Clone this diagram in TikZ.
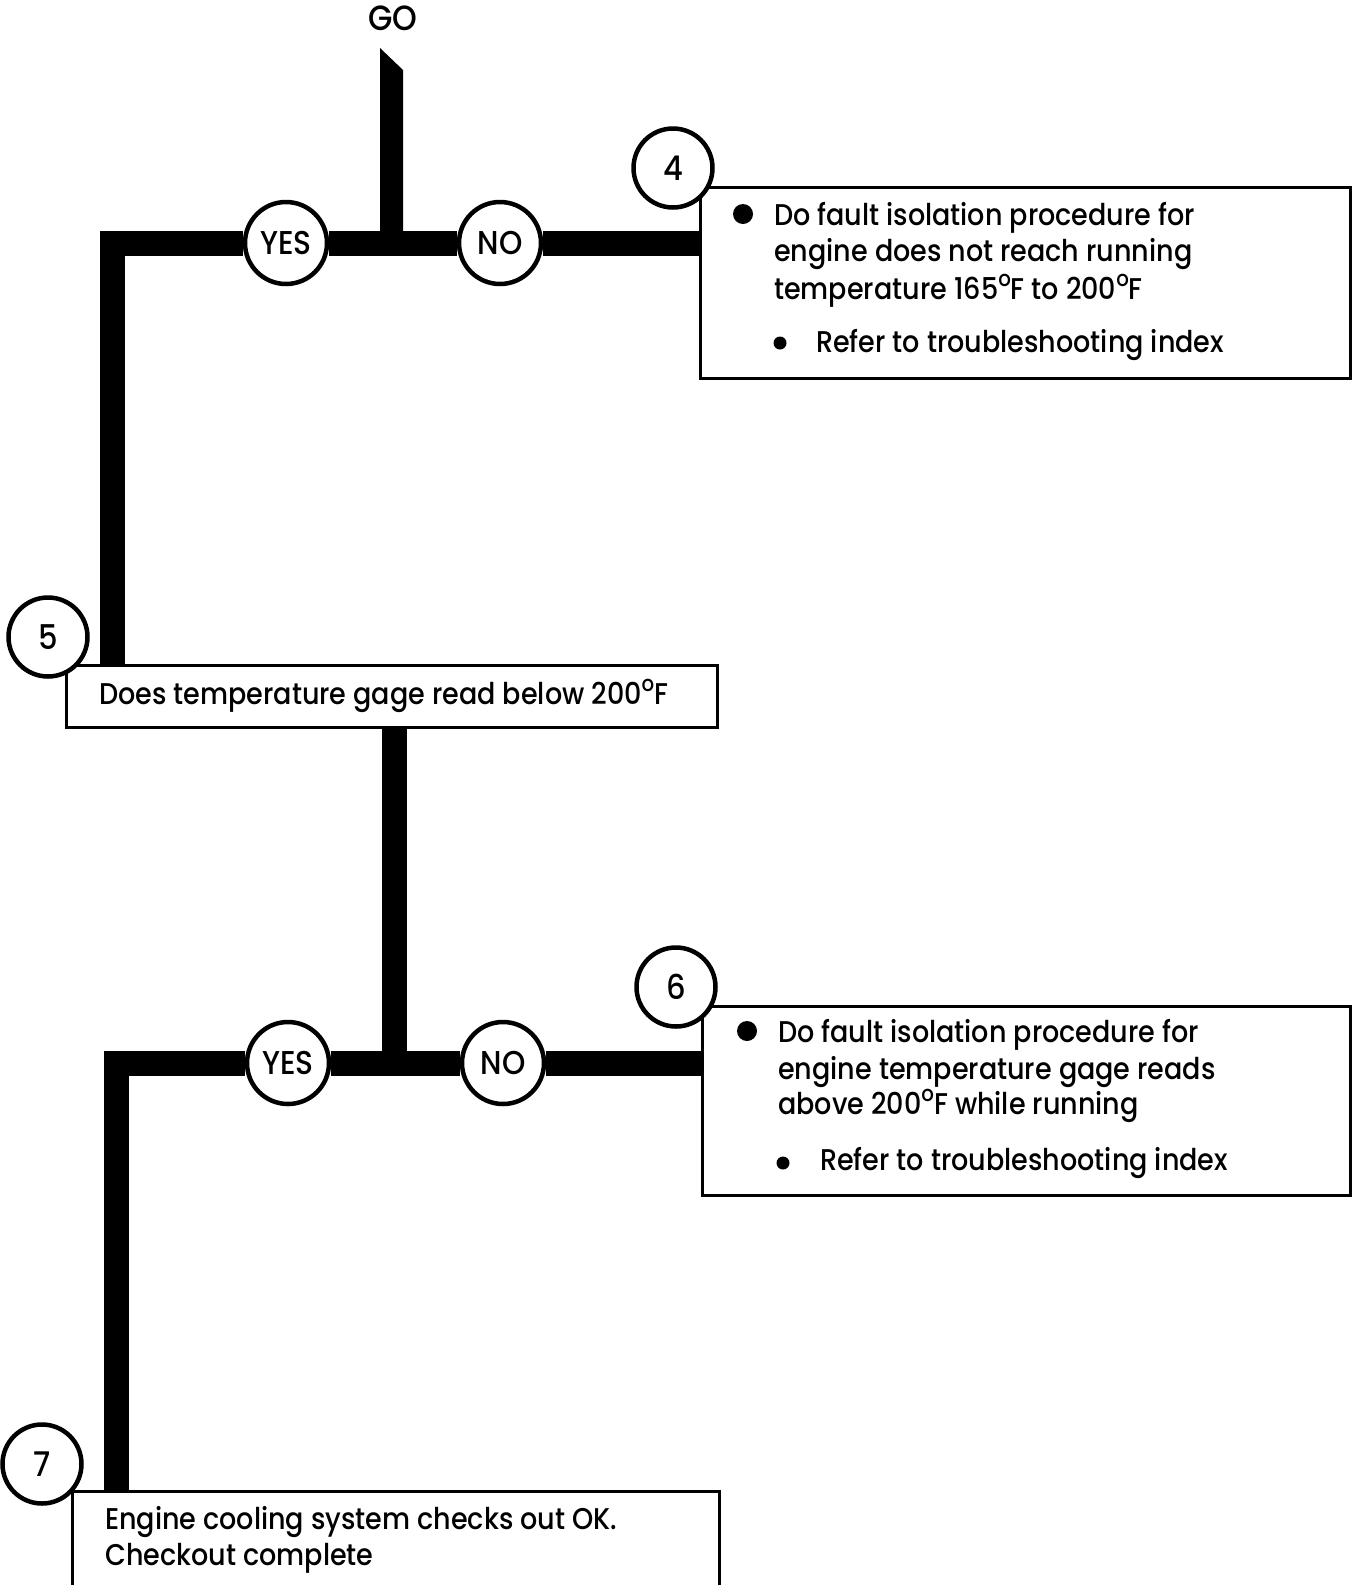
\documentclass[tikz,border=0pt]{standalone}
\usepackage{fontspec}
\setmainfont[FakeStretch=0.90, UprightFont=* Medium]{Poppins}
\usetikzlibrary{backgrounds}
\newcommand{\dgr}{\raisebox{0.8ex}{\fontsize{22}{22}\selectfont o}}
\tikzset{
  bar/.style={line width=25pt, line join=miter, line cap=butt},
  numc/.style={circle, draw, line width=4.5pt, fill=white, minimum size=79pt, inner sep=0pt, font=\fontsize{34}{36}\selectfont},
  ync/.style={circle, draw, line width=4.5pt, fill=white, minimum size=82pt, inner sep=0pt, font=\fontsize{33}{36}\selectfont},
  boxst/.style={draw, line width=2.5pt, anchor=north west, inner sep=0pt},
  txt/.style={anchor=mid west, inner sep=0pt, font=\fontsize{30}{36}\selectfont},
  bigdot/.style={circle, fill, minimum size=20pt, inner sep=0pt},
  smalldot/.style={circle, fill, minimum size=13pt, inner sep=0pt},
}
\begin{document}
\begin{tikzpicture}[x=1pt, y=-1pt]
\useasboundingbox (0,0) rectangle (1353,1585);
% boxes
\node[boxst, minimum width=650pt, minimum height=191pt] (b4) at (699,186) {};
\node[boxst, minimum width=651pt, minimum height=62pt] (b5) at (65,664) {};
\node[boxst, minimum width=648pt, minimum height=189pt] (b6) at (701,1005) {};
\node[boxst, minimum width=647pt, minimum height=130pt] (b7) at (71,1490) {};
% junction coordinates
\coordinate (j1) at (391.5,243);
\coordinate (c1) at (112,243);
\coordinate (j2) at (394,1063);
\coordinate (c2) at (116,1063);
% circles
\node[ync] (yes1) at (286,243) {YES};
\node[ync] (no1) at (500,243) {NO};
\node[numc] (n4) at (673,168) {4};
\node[numc] (n5) at (48,637) {5};
\node[ync] (yes2) at (288,1063) {YES};
\node[ync] (no2) at (503,1063) {NO};
\node[numc] (n6) at (676,987) {6};
\node[numc] (n7) at (42,1464) {7};
% GO label
\node[font=\fontsize{35}{36}\selectfont, inner sep=0pt] (golbl) at (393,18) {GO};
% bars
\begin{scope}[on background layer]
  \fill (380,48) -- (403,70) -- (403,243) -- (380,243) -- cycle;
  \draw[bar] (b4.west |- j1) -- (no1) -- (yes1) -- (c1) -- (c1 |- b5.north);
  \draw[bar] (b5.south -| j2) -- (j2);
  \draw[bar] (b6.west |- j2) -- (no2) -- (yes2) -- (c2) -- (c2 |- b7.north);
\end{scope}
% box 4 text
\node[bigdot] (d4a) at (743,214) {};
\node[txt] (t4a) at (774,223) {Do fault isolation procedure for};
\node[txt] (t4b) at (774,259) {engine does not reach running};
\node[txt] (t4c) at (774,297) {temperature 165\dgr F to 200\dgr F};
\node[smalldot] (d4b) at (780,343) {};
\node[txt] (t4d) at (816,350) {Refer to troubleshooting index};
% box 5 text
\node[txt] (t5) at (99,702) {Does temperature gage read below 200\dgr F};
% box 6 text
\node[bigdot] (d6a) at (747,1031) {};
\node[txt] (t6a) at (778,1040) {Do fault isolation procedure for};
\node[txt] (t6b) at (778,1077) {engine temperature gage reads};
\node[txt] (t6c) at (778,1112) {above 200\dgr F while running};
\node[smalldot] (d6b) at (783,1163) {};
\node[txt] (t6d) at (820,1168) {Refer to troubleshooting index};
% box 7 text
\node[txt] (t7a) at (105,1527) {Engine cooling system checks out OK.};
\node[txt] (t7b) at (105,1563) {Checkout complete};
\end{tikzpicture}
\end{document}
